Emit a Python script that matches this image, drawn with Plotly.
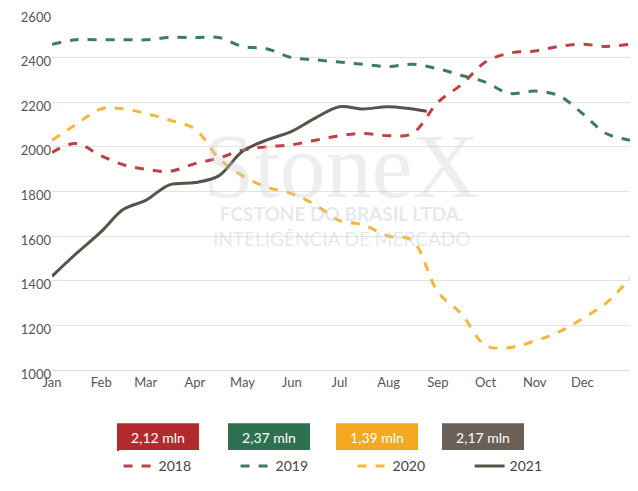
import plotly.graph_objects as go

# half-month sample dates (2021 calendar used as a generic year)
dates = ["2021-01-01", "2021-01-16", "2021-02-01", "2021-02-15", "2021-03-01", "2021-03-16",
         "2021-04-01", "2021-04-16", "2021-05-01", "2021-05-16", "2021-06-01", "2021-06-16",
         "2021-07-01", "2021-07-16", "2021-08-01", "2021-08-16", "2021-09-01", "2021-09-16",
         "2021-10-01", "2021-10-16", "2021-11-01", "2021-11-16", "2021-12-01", "2021-12-16",
         "2021-12-31"]

y2018 = [1975, 2015, 1960, 1920, 1900, 1890, 1925, 1950, 1985, 2000, 2010, 2030,
         2050, 2060, 2050, 2060, 2200, 2280, 2380, 2420, 2430, 2450, 2460, 2450, 2460]
y2019 = [2460, 2480, 2480, 2480, 2480, 2490, 2490, 2490, 2450, 2440, 2400, 2390,
         2380, 2370, 2360, 2370, 2350, 2320, 2290, 2240, 2250, 2230, 2150, 2060, 2030]
y2020 = [2030, 2100, 2170, 2170, 2150, 2120, 2080, 1950, 1870, 1820, 1790, 1740,
         1670, 1650, 1600, 1580, 1350, 1250, 1110, 1100, 1130, 1170, 1230, 1300, 1410]
y2021 = [1420, 1520, 1620, 1720, 1760, 1830, 1840, 1870, 1980, 2030, 2070, 2130,
         2180, 2170, 2180, 2160]
dates2021 = dates[:15] + ["2021-08-25"]

line_colors = ["#bf4045", "#3c7d5c", "#f6b638", "#5b5149"]
box_colors = ["#b22b2c", "#2d7150", "#f4a81f", "#6a6057"]
box_labels = ["2,12 mln", "2,37 mln", "1,39 mln", "2,17 mln"]

fig = go.Figure()
for name, xs, ys, c in [("2018", dates, y2018, line_colors[0]),
                        ("2019", dates, y2019, line_colors[1]),
                        ("2020", dates, y2020, line_colors[2]),
                        ("2021", dates2021, y2021, line_colors[3])]:
    fig.add_trace(go.Scatter(x=xs, y=ys, name=name, mode="lines",
                             line=dict(color=c, width=3, shape="spline",
                                       dash="solid" if name == "2021" else "dash")))

# watermark
fig.add_annotation(x=0.5, y=0.72, xref="paper", yref="paper", text="StoneX", showarrow=False,
                   font=dict(size=92, family="Liberation Serif", color="rgba(200,205,210,0.35)"))
fig.add_annotation(x=0.5, y=0.33, xref="paper", yref="paper",
                   text="<b>FCSTONE DO BRASIL LTDA.</b><br>INTELIGÊNCIA DE MERCADO", showarrow=False,
                   font=dict(size=19, family="Lato", color="rgba(200,205,210,0.45)"))

# value boxes below the plot (pixel centres converted to paper coords)
box_cx = [150, 261, 369, 475]
for cx, lab, c in zip(box_cx, box_labels, box_colors):
    px = (cx - 44) / 578
    hw = 41 / 578
    fig.add_shape(type="rect", xref="paper", yref="paper", x0=px - hw, x1=px + hw,
                  y0=-0.227, y1=-0.149, fillcolor=c, line=dict(width=0),
                  label=dict(text=lab, font=dict(size=14, color="white", family="Lato")))

fig.update_layout(
    width=638, height=491, margin=dict(l=44, r=16, t=5, b=129, autoexpand=False),
    paper_bgcolor="white", plot_bgcolor="white",
    font=dict(family="Lato", color="#555", size=13),
    legend=dict(orientation="h", x=0.52, xanchor="center", y=-0.225, yanchor="top",
                entrywidth=72, entrywidthmode="pixels",
                font=dict(size=14, color="#444")),
    xaxis=dict(range=["2021-01-01", "2021-12-31"], dtick="M1", tickformat="%b",
               showgrid=False, showline=True, linecolor="#ddd", ticks=""),
    yaxis=dict(range=[1000, 2600], dtick=200, gridcolor="#e3e3e3", zeroline=False,
               ticks="", showline=False, ticklabelshift=4),
)
fig.write_html("out.html")
